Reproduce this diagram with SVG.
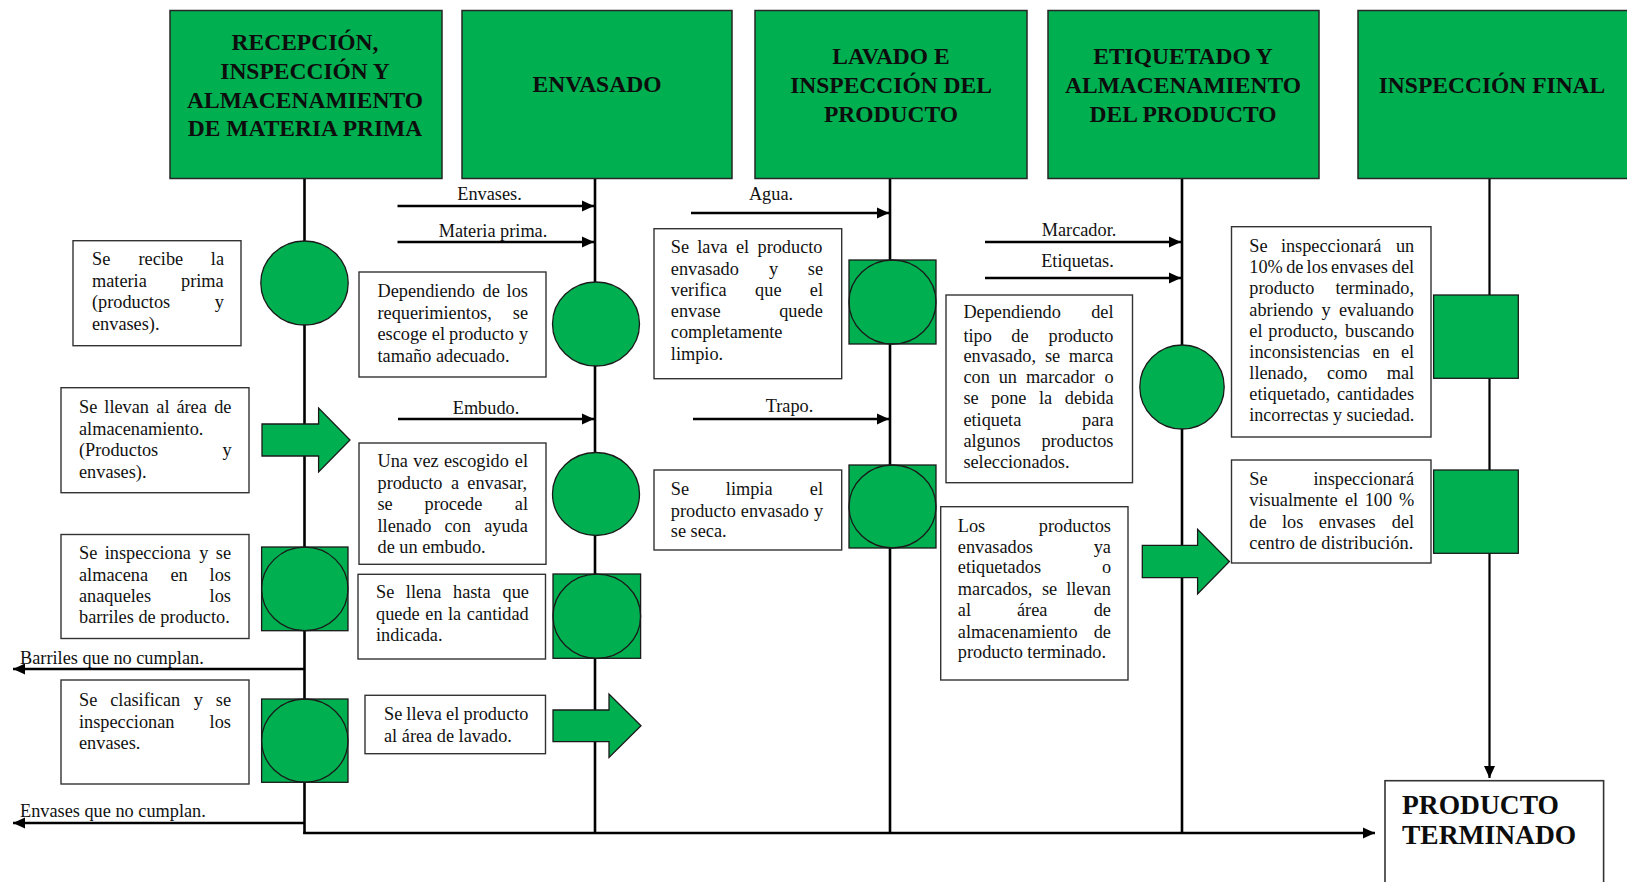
<svg xmlns="http://www.w3.org/2000/svg" width="1627" height="882" viewBox="0 0 1627 882">
<defs>
<marker id="ah" markerUnits="userSpaceOnUse" markerWidth="14" markerHeight="12" refX="12" refY="6" orient="auto"><path d="M0,0.5 L12,6 L0,11.5 z" fill="#000"/></marker>
<style>
.hd{fill:#00AF50;stroke:#262626;stroke-width:1.5}
.ht{font-family:"Liberation Serif","Times New Roman",serif;font-weight:bold;font-size:23.5px;fill:#0d0d0d;text-anchor:middle}
.bx{fill:#fff;stroke:#333;stroke-width:1.4}
.t{font-family:"Liberation Serif","Times New Roman",serif;font-size:18.3px;fill:#111}
.g{fill:#00AF50;stroke:#1a1a1a;stroke-width:1.3}
.ln{stroke:#000;stroke-width:2.6;fill:none}
.ar{stroke:#000;stroke-width:2.6;fill:none;marker-end:url(#ah)}
.pt{font-family:"Liberation Serif","Times New Roman",serif;font-weight:bold;font-size:27.5px;fill:#0d0d0d}
</style>
</defs>
<rect x="0" y="0" width="1627" height="882" fill="#fff"/>

<g id="connectors">
<line class="ln" x1="304.5" y1="178" x2="304.5" y2="834"/>
<line class="ln" x1="595" y1="178" x2="595" y2="834"/>
<line class="ln" x1="890" y1="178" x2="890" y2="834"/>
<line class="ln" x1="1182" y1="178" x2="1182" y2="834"/>
<line class="ln" x1="303.2" y1="833" x2="1375" y2="833" style="marker-end:url(#ah)"/>
<line class="ar" x1="1489.5" y1="178" x2="1489.5" y2="778" style="stroke-width:2.2"/>
<line class="ar" x1="397.5" y1="206" x2="594" y2="206"/>
<line class="ar" x1="397.5" y1="242" x2="594" y2="242"/>
<line class="ar" x1="398" y1="419" x2="594" y2="419"/>
<line class="ar" x1="691" y1="213" x2="889" y2="213"/>
<line class="ar" x1="693" y1="419" x2="889" y2="419"/>
<line class="ar" x1="985" y1="242" x2="1181" y2="242"/>
<line class="ar" x1="985" y1="278" x2="1181" y2="278"/>
<line class="ar" x1="304.5" y1="669" x2="13" y2="669"/>
<line class="ar" x1="304.5" y1="823" x2="13" y2="823"/>
<text class="t" x="489.5" y="200" text-anchor="middle">Envases.</text>
<text class="t" x="493" y="237" text-anchor="middle">Materia prima.</text>
<text class="t" x="486" y="414" text-anchor="middle">Embudo.</text>
<text class="t" x="771" y="200" text-anchor="middle">Agua.</text>
<text class="t" x="789.5" y="412" text-anchor="middle">Trapo.</text>
<text class="t" x="1079" y="236" text-anchor="middle">Marcador.</text>
<text class="t" x="1077.5" y="267" text-anchor="middle">Etiquetas.</text>
<text class="t" x="20" y="664">Barriles que no cumplan.</text>
<text class="t" x="20" y="817">Envases que no cumplan.</text>
</g>

<g id="h1"><rect class="hd" x="170" y="10.5" width="272" height="168"/>
<text class="ht" x="305" y="50">RECEPCIÓN,</text>
<text class="ht" x="305" y="78.5">INSPECCIÓN Y</text>
<text class="ht" x="305" y="107.5">ALMACENAMIENTO</text>
<text class="ht" x="305" y="136">DE MATERIA PRIMA</text></g>
<g id="h2"><rect class="hd" x="462" y="10.5" width="270" height="168"/>
<text class="ht" x="597" y="92">ENVASADO</text></g>
<g id="h3"><rect class="hd" x="755" y="10.5" width="272" height="168"/>
<text class="ht" x="891" y="64">LAVADO E</text>
<text class="ht" x="891" y="92.5">INSPECCIÓN DEL</text>
<text class="ht" x="891" y="121.5">PRODUCTO</text></g>
<g id="h4"><rect class="hd" x="1048" y="10.5" width="271" height="168"/>
<text class="ht" x="1183" y="64">ETIQUETADO Y</text>
<text class="ht" x="1183" y="92.5">ALMACENAMIENTO</text>
<text class="ht" x="1183" y="121.5">DEL PRODUCTO</text></g>
<g id="h5"><rect class="hd" x="1358" y="10.5" width="275" height="168"/>
<text class="ht" x="1492" y="92.5">INSPECCIÓN FINAL</text></g>

<g id="s-c1-1"><ellipse class="g" cx="304.5" cy="283" rx="43.7" ry="42"/></g>
<g id="s-c1-2"><polygon class="g" points="262,424 318.6,424 318.6,408 350,440 318.6,472 318.6,456 262,456"/></g>
<g id="s-c1-3"><rect class="g" x="261.6" y="547" width="86.4" height="83.7"/><ellipse class="g" cx="304.8" cy="588.9" rx="43.2" ry="41.8" style="fill:none"/></g>
<g id="s-c1-4"><rect class="g" x="261.6" y="699" width="86.4" height="83.3"/><ellipse class="g" cx="304.8" cy="740.6" rx="43.2" ry="41.6" style="fill:none"/></g>
<g id="s-c2-1"><ellipse class="g" cx="596" cy="324" rx="43.5" ry="42"/></g>
<g id="s-c2-2"><ellipse class="g" cx="596" cy="494" rx="43.5" ry="41.5"/></g>
<g id="s-c2-3"><rect class="g" x="553" y="574" width="87.6" height="84.3"/><ellipse class="g" cx="596.8" cy="616.2" rx="43.8" ry="42.1" style="fill:none"/></g>
<g id="s-c2-4"><polygon class="g" points="553,710 609,710 609,694 641,725.8 609,757.5 609,741.7 553,741.7"/></g>
<g id="s-c3-1"><rect class="g" x="849" y="260" width="87" height="84"/><ellipse class="g" cx="892.5" cy="302" rx="43.5" ry="42" style="fill:none"/></g>
<g id="s-c3-2"><rect class="g" x="849" y="465" width="87" height="83"/><ellipse class="g" cx="892.5" cy="506.5" rx="43.5" ry="41.5" style="fill:none"/></g>
<g id="s-c4-1"><ellipse class="g" cx="1182" cy="387" rx="42.2" ry="42"/></g>
<g id="s-c4-2"><polygon class="g" points="1142.3,545.3 1197.6,545.3 1197.6,529.3 1229.4,561.5 1197.6,594 1197.6,577.7 1142.3,577.7"/></g>
<g id="s-c5-1"><rect class="g" x="1433.6" y="295" width="84.7" height="83.3"/></g>
<g id="s-c5-2"><rect class="g" x="1433.6" y="470" width="84.7" height="83.3"/></g>

<g id="n-recibe"><rect class="bx" x="73" y="240.7" width="168" height="105"/>
<text class="t" y="265"><tspan x="92">Se</tspan><tspan x="138.5">recibe</tspan><tspan x="210.8">la</tspan></text>
<text class="t" y="286.5"><tspan x="92">materia</tspan><tspan x="181">prima</tspan></text>
<text class="t" y="308"><tspan x="92">(productos</tspan><tspan x="214.8">y</tspan></text>
<text class="t" x="92" y="329.5">envases).</text></g>

<g id="n-llevan"><rect class="bx" x="61" y="387.7" width="188" height="105"/>
<text class="t" y="413"><tspan x="79">Se</tspan><tspan x="104.3">llevan</tspan><tspan x="156.3">al</tspan><tspan x="176.4">área</tspan><tspan x="214.2">de</tspan></text>
<text class="t" x="79" y="434.5">almacenamiento.</text>
<text class="t" y="456"><tspan x="79">(Productos</tspan><tspan x="222.4">y</tspan></text>
<text class="t" x="79" y="477.5">envases).</text></g>

<g id="n-inspecciona"><rect class="bx" x="61" y="534.5" width="188" height="104"/>
<text class="t" y="559.3"><tspan x="79">Se</tspan><tspan x="104.7">inspecciona</tspan><tspan x="199.2">y</tspan><tspan x="215.8">se</tspan></text>
<text class="t" y="580.7"><tspan x="79">almacena</tspan><tspan x="170.4">en</tspan><tspan x="209.6">los</tspan></text>
<text class="t" y="601.7"><tspan x="79">anaqueles</tspan><tspan x="209.6">los</tspan></text>
<text class="t" x="79" y="623.3">barriles de producto.</text></g>

<g id="n-clasifican"><rect class="bx" x="61" y="680" width="188" height="104"/>
<text class="t" y="706"><tspan x="79">Se</tspan><tspan x="110.2">clasifican</tspan><tspan x="193.7">y</tspan><tspan x="215.8">se</tspan></text>
<text class="t" y="727.7"><tspan x="79">inspeccionan</tspan><tspan x="209.6">los</tspan></text>
<text class="t" x="79" y="749.3">envases.</text></g>

<g id="n-dependiendo"><rect class="bx" x="359" y="272" width="187" height="105"/>
<text class="t" y="297.3"><tspan x="377.5">Dependiendo</tspan><tspan x="482.5">de</tspan><tspan x="506.6">los</tspan></text>
<text class="t" y="319"><tspan x="377.5">requerimientos,</tspan><tspan x="512.8">se</tspan></text>
<text class="t" y="340"><tspan x="377.5">escoge</tspan><tspan x="431.8">el</tspan><tspan x="449">producto</tspan><tspan x="518.9">y</tspan></text>
<text class="t" x="377.5" y="361.7">tamaño adecuado.</text></g>

<g id="n-unavez"><rect class="bx" x="359" y="443" width="187" height="121.3"/>
<text class="t" y="467.3"><tspan x="377.5">Una</tspan><tspan x="413.3">vez</tspan><tspan x="443.9">escogido</tspan><tspan x="514.8">el</tspan></text>
<text class="t" y="489.3"><tspan x="377.5">producto</tspan><tspan x="451">a</tspan><tspan x="467.3">envasar,</tspan></text>
<text class="t" y="510"><tspan x="377.5">se</tspan><tspan x="424.5">procede</tspan><tspan x="514.8">al</tspan></text>
<text class="t" y="532.3"><tspan x="377.5">llenado</tspan><tspan x="444.5">con</tspan><tspan x="484.2">ayuda</tspan></text>
<text class="t" x="377.5" y="553.3">de un embudo.</text></g>

<g id="n-llena"><rect class="bx" x="358" y="574.3" width="187.5" height="84.7"/>
<text class="t" y="598.3"><tspan x="376">Se</tspan><tspan x="405.8">llena</tspan><tspan x="453">hasta</tspan><tspan x="502.5">que</tspan></text>
<text class="t" y="620"><tspan x="376">quede</tspan><tspan x="425.3">en</tspan><tspan x="447.9">la</tspan><tspan x="466.8">cantidad</tspan></text>
<text class="t" x="376" y="640.7">indicada.</text></g>

<g id="n-lleva"><rect class="bx" x="365" y="695.3" width="180.5" height="58.4"/>
<text class="t" y="720"><tspan x="384">Se</tspan><tspan x="406.3">lleva</tspan><tspan x="446.1">el</tspan><tspan x="463.5">producto</tspan></text>
<text class="t" x="384" y="741.7">al área de lavado.</text></g>

<g id="n-lava"><rect class="bx" x="654" y="228.7" width="187.7" height="150"/>
<text class="t" y="253.3"><tspan x="670.8">Se</tspan><tspan x="697.2">lava</tspan><tspan x="736">el</tspan><tspan x="757.5">producto</tspan></text>
<text class="t" y="275"><tspan x="670.8">envasado</tspan><tspan x="769">y</tspan><tspan x="807.8">se</tspan></text>
<text class="t" y="295.7"><tspan x="670.8">verifica</tspan><tspan x="755.1">que</tspan><tspan x="809.8">el</tspan></text>
<text class="t" y="317.3"><tspan x="670.8">envase</tspan><tspan x="779.2">quede</tspan></text>
<text class="t" x="670.8" y="338.3">completamente</text>
<text class="t" x="670.8" y="360">limpio.</text></g>

<g id="n-limpia"><rect class="bx" x="654" y="470" width="187.7" height="80"/>
<text class="t" y="495"><tspan x="670.8">Se</tspan><tspan x="725.8">limpia</tspan><tspan x="809.8">el</tspan></text>
<text class="t" y="516.7"><tspan x="670.8">producto</tspan><tspan x="740.8">envasado</tspan><tspan x="813.9">y</tspan></text>
<text class="t" x="670.8" y="536.7">se seca.</text></g>

<g id="n-marca"><rect class="bx" x="946" y="295" width="186.5" height="187.7"/>
<text class="t" y="318.3"><tspan x="963.4">Dependiendo</tspan><tspan x="1091.2">del</tspan></text>
<text class="t" y="341.7"><tspan x="963.4">tipo</tspan><tspan x="1011.3">de</tspan><tspan x="1048.5">producto</tspan></text>
<text class="t" y="361.7"><tspan x="963.4">envasado,</tspan><tspan x="1044.9">se</tspan><tspan x="1068.8">marca</tspan></text>
<text class="t" y="383.3"><tspan x="963.4">con</tspan><tspan x="998.7">un</tspan><tspan x="1025.9">marcador</tspan><tspan x="1104.5">o</tspan></text>
<text class="t" y="404"><tspan x="963.4">se</tspan><tspan x="990.9">pone</tspan><tspan x="1038.9">la</tspan><tspan x="1064.8">debida</tspan></text>
<text class="t" y="426"><tspan x="963.4">etiqueta</tspan><tspan x="1082.1">para</tspan></text>
<text class="t" y="446.7"><tspan x="963.4">algunos</tspan><tspan x="1041.4">productos</tspan></text>
<text class="t" x="963.4" y="468.3">seleccionados.</text></g>

<g id="n-almacen"><rect class="bx" x="940.7" y="506.7" width="187.3" height="173.3"/>
<text class="t" y="531.7"><tspan x="957.8">Los</tspan><tspan x="1038.8">productos</tspan></text>
<text class="t" y="552.7"><tspan x="957.8">envasados</tspan><tspan x="1093.7">ya</tspan></text>
<text class="t" y="573.3"><tspan x="957.8">etiquetados</tspan><tspan x="1101.9">o</tspan></text>
<text class="t" y="595"><tspan x="957.8">marcados,</tspan><tspan x="1041.9">se</tspan><tspan x="1066.2">llevan</tspan></text>
<text class="t" y="616"><tspan x="957.8">al</tspan><tspan x="1017">área</tspan><tspan x="1093.7">de</tspan></text>
<text class="t" y="637.7"><tspan x="957.8">almacenamiento</tspan><tspan x="1093.7">de</tspan></text>
<text class="t" x="957.8" y="658.3">producto terminado.</text></g>

<g id="n-insp10"><rect class="bx" x="1231.5" y="226.7" width="199.5" height="210.3"/>
<text class="t" y="251.7"><tspan x="1249.3">Se</tspan><tspan x="1280.9">inspeccionará</tspan><tspan x="1395.9">un</tspan></text>
<text class="t" y="273.3"><tspan x="1249.3">10%</tspan><tspan x="1286.2">de</tspan><tspan x="1306.6">los</tspan><tspan x="1331.1">envases</tspan><tspan x="1391.8">del</tspan></text>
<text class="t" y="294.3"><tspan x="1249.3">producto</tspan><tspan x="1335.4">terminado,</tspan></text>
<text class="t" y="315.7"><tspan x="1249.3">abriendo</tspan><tspan x="1321.5">y</tspan><tspan x="1338.9">evaluando</tspan></text>
<text class="t" y="336.7"><tspan x="1249.3">el</tspan><tspan x="1268.3">producto,</tspan><tspan x="1345">buscando</tspan></text>
<text class="t" y="358.3"><tspan x="1249.3">inconsistencias</tspan><tspan x="1372.5">en</tspan><tspan x="1401">el</tspan></text>
<text class="t" y="379.3"><tspan x="1249.3">llenado,</tspan><tspan x="1326.9">como</tspan><tspan x="1386.7">mal</tspan></text>
<text class="t" y="400"><tspan x="1249.3">etiquetado,</tspan><tspan x="1336.9">cantidades</tspan></text>
<text class="t" x="1249.3" y="421" textLength="165" lengthAdjust="spacingAndGlyphs">incorrectas y suciedad.</text></g>

<g id="n-insp100"><rect class="bx" x="1231.5" y="460" width="199.5" height="103"/>
<text class="t" y="485"><tspan x="1249.3">Se</tspan><tspan x="1313.5">inspeccionará</tspan></text>
<text class="t" y="506"><tspan x="1249.3">visualmente</tspan><tspan x="1345">el</tspan><tspan x="1364.7">100</tspan><tspan x="1399">%</tspan></text>
<text class="t" y="527.7"><tspan x="1249.3">de</tspan><tspan x="1282">los</tspan><tspan x="1318.8">envases</tspan><tspan x="1391.8">del</tspan></text>
<text class="t" x="1249.3" y="549">centro de distribución.</text></g>

<g id="n-terminado"><rect class="bx" x="1385" y="780.7" width="218.6" height="120" style="stroke-width:1.6"/>
<text class="pt" x="1402" y="814.3">PRODUCTO</text>
<text class="pt" x="1402" y="844.3">TERMINADO</text></g>
</svg>
